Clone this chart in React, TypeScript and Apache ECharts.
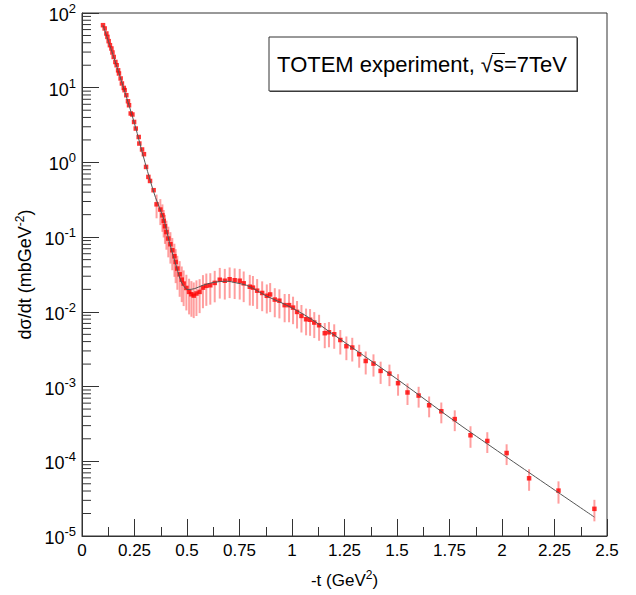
import React, { useEffect, useRef } from "react";
import * as echarts from "echarts";

// low-|t| data set (small errors)
const lowT = [0.100, 0.108, 0.116, 0.121, 0.127, 0.133, 0.140, 0.145, 0.151, 0.159, 0.165, 0.172, 0.176, 0.184, 0.190, 0.199, 0.203, 0.211, 0.219, 0.224, 0.232, 0.240, 0.248, 0.256, 0.270, 0.273, 0.286, 0.295, 0.305, 0.316, 0.324, 0.341];
const lowV = [68.7, 62.1, 53.2, 47.9, 42.0, 37.1, 33.5, 29.6, 25.8, 22.1, 20.0, 17.1, 15.5, 13.3, 11.4, 9.93, 9.27, 7.94, 6.59, 5.83, 4.52, 4.38, 3.48, 2.84, 2.19, 1.79, 1.49, 1.29, 0.871, 0.640, 0.565, 0.425];

// high-|t| data set (large errors)
const highT = [0.355, 0.373, 0.383, 0.389, 0.395, 0.402, 0.411, 0.421, 0.430, 0.440, 0.446, 0.454, 0.465, 0.475, 0.484, 0.497, 0.510, 0.521, 0.532, 0.545, 0.560, 0.576, 0.592, 0.611, 0.632, 0.656, 0.680, 0.703, 0.727, 0.751, 0.770, 0.799, 0.814, 0.834, 0.858, 0.880, 0.896, 0.918, 0.940, 0.965, 0.986, 1.005, 1.024, 1.045, 1.067, 1.086, 1.106, 1.129, 1.156, 1.176, 1.201, 1.230, 1.259, 1.287, 1.320, 1.351, 1.388, 1.422, 1.464, 1.505, 1.550, 1.603, 1.653, 1.711, 1.775, 1.850, 1.930, 2.022, 2.129, 2.269, 2.440];
const highV = [0.275, 0.234, 0.196, 0.165, 0.140, 0.117, 0.0958, 0.0804, 0.0668, 0.0555, 0.0466, 0.0380, 0.0318, 0.0270, 0.0239, 0.0209, 0.0185, 0.0172, 0.0165, 0.0176, 0.0185, 0.0211, 0.0223, 0.0227, 0.0244, 0.0269, 0.0261, 0.0273, 0.0265, 0.0261, 0.0241, 0.0217, 0.0211, 0.0192, 0.0179, 0.0164, 0.0171, 0.0146, 0.0141, 0.0123, 0.0123, 0.0114, 0.00998, 0.00882, 0.00796, 0.00784, 0.00719, 0.00662, 0.00518, 0.00533, 0.00501, 0.00420, 0.00347, 0.00333, 0.00271, 0.00220, 0.00203, 0.00162, 0.00149, 0.00111, 0.000834, 0.000758, 0.000562, 0.000467, 0.000367, 0.000223, 0.000187, 0.000129, 5.92e-5, 4.05e-5, 2.31e-5];
// relative errors (fraction of value)
const highErr = [0.35, 0.38, 0.40, 0.40, 0.42, 0.42, 0.44, 0.45, 0.46, 0.47, 0.48, 0.48, 0.50, 0.50, 0.50, 0.50, 0.50, 0.50, 0.50, 0.50, 0.48, 0.47, 0.46, 0.45, 0.45, 0.44, 0.44, 0.44, 0.44, 0.44, 0.44, 0.44, 0.43, 0.43, 0.43, 0.42, 0.42, 0.42, 0.42, 0.41, 0.41, 0.40, 0.40, 0.40, 0.39, 0.39, 0.38, 0.38, 0.37, 0.37, 0.36, 0.36, 0.35, 0.35, 0.34, 0.34, 0.33, 0.33, 0.32, 0.32, 0.32, 0.31, 0.31, 0.31, 0.31, 0.32, 0.31, 0.31, 0.32, 0.33, 0.32];

// fit curve
const fitT = [0.100, 0.150, 0.200, 0.250, 0.300, 0.350, 0.386, 0.418, 0.450, 0.473, 0.494, 0.505, 0.537, 0.576, 0.624, 0.688, 0.735, 0.783, 0.830, 0.878, 0.941, 1.021, 1.100, 1.180, 1.500, 1.814, 2.440];
const fitV = [68.7, 26.3, 9.55, 3.31, 1.0, 0.339, 0.186, 0.0820, 0.0399, 0.0251, 0.0205, 0.0199, 0.0205, 0.0227, 0.0247, 0.0257, 0.0244, 0.0227, 0.0195, 0.0163, 0.0136, 0.0105, 0.00773, 0.00538, 0.00126, 0.000288, 1.79e-5];

const xTickInterval = 0.25;
const yDecades = [-5, -4, -3, -2, -1, 0, 1];
const legendText = "TOTEM experiment, \u221As=7TeV";

const FONT = '"Liberation Sans", Arial, Helvetica, sans-serif';
const LEGEND_FONT = '22px "Liberation Sans"';

export default function App() {
  const ref = useRef<HTMLDivElement>(null);
  useEffect(() => {
    if (!ref.current) return;
    const chart = echarts.init(ref.current, undefined, { renderer: "svg" });

    const yMinor: number[][] = [];
    yDecades.forEach((e) => {
      for (let m = 2; m <= 9; m++) yMinor.push([0, m * Math.pow(10, e)]);
    });

    // measure legend text for the radical overline
    const cv = document.createElement("canvas").getContext("2d")!;
    cv.font = LEGEND_FONT;
    const fullW = cv.measureText(legendText).width;
    const preW = cv.measureText("TOTEM experiment, \u221A").width;
    const sW = cv.measureText("s").width;
    const cx = 422;
    const cy = 64;
    const left = cx - fullW / 2;

    chart.setOption({
      animation: false,
      backgroundColor: "#fff",
      grid: {
        left: 82,
        right: 29,
        top: 13,
        bottom: 59,
        show: true,
        borderColor: "#333",
        borderWidth: 1,
        backgroundColor: "transparent",
      },
      xAxis: {
        type: "value",
        min: 0,
        max: 2.5,
        interval: xTickInterval,
        name: "{a|-t (GeV}{s|2}{a|)}",
        nameLocation: "middle",
        nameGap: 33,
        nameTextStyle: {
          rich: {
            a: { fontSize: 17, fontFamily: FONT, color: "#000", lineHeight: 20, verticalAlign: "bottom" },
            s: { fontSize: 12, fontFamily: FONT, color: "#000", lineHeight: 20, verticalAlign: "top" },
          },
        },
        axisLine: { show: true, lineStyle: { color: "#333" } },
        axisTick: { show: true, inside: true, length: 17, lineStyle: { color: "#333" } },
        minorTick: { show: true, splitNumber: 2, length: 9, lineStyle: { color: "#333" } },
        splitLine: { show: false },
        axisLabel: { fontSize: 17, fontFamily: FONT, color: "#000", margin: 6 },
      },
      yAxis: {
        type: "log",
        logBase: 10,
        min: 1e-5,
        max: 100,
        interval: 1,
        name: "{a|d\u03C3/dt (mbGeV}{s|-2}{a|)}",
        nameLocation: "middle",
        nameRotate: 90,
        nameGap: 43,
        nameTextStyle: {
          rich: {
            a: { fontSize: 18, fontFamily: FONT, color: "#000", lineHeight: 20, verticalAlign: "bottom" },
            s: { fontSize: 12, fontFamily: FONT, color: "#000", lineHeight: 20, verticalAlign: "top" },
          },
        },
        axisLine: { show: true, lineStyle: { color: "#333" } },
        axisTick: { show: true, inside: true, length: 17, lineStyle: { color: "#333" } },
        splitLine: { show: false },
        axisLabel: {
          margin: 6,
          formatter: (v: number) => "{b|10}{s|" + Math.round(Math.log10(v)) + "}",
          rich: {
            b: { fontSize: 18, fontFamily: FONT, color: "#000", lineHeight: 22, verticalAlign: "bottom" },
            s: { fontSize: 13, fontFamily: FONT, color: "#000", lineHeight: 22, verticalAlign: "top" },
          },
        },
      },
      graphic: [
        {
          type: "group",
          children: [
            { type: "rect", shape: { x: 270, y: 38, width: 308, height: 54 }, style: { fill: "#444" } },
            { type: "rect", shape: { x: 269, y: 37, width: 308, height: 54 }, style: { fill: "#fff", stroke: "#333", lineWidth: 1 } },
            {
              type: "text",
              x: cx,
              y: cy,
              style: { text: legendText, font: LEGEND_FONT, fill: "#000", align: "center", verticalAlign: "middle" },
            },
            {
              type: "line",
              shape: { x1: left + preW - 1, y1: cy - 10.5, x2: left + preW + sW + 1, y2: cy - 10.5 },
              style: { stroke: "#000", lineWidth: 1 },
            },
          ],
        },
      ],
      series: [
        {
          type: "custom",
          name: "yMinorTicks",
          silent: true,
          clip: false,
          data: yMinor,
          encode: { x: 0, y: 1 },
          renderItem: (_p: any, api: any) => {
            const p = api.coord([0, api.value(1)]);
            return {
              type: "line",
              shape: { x1: p[0], y1: p[1], x2: p[0] + 9, y2: p[1] },
              style: { stroke: "#333", lineWidth: 1 },
            };
          },
          z: 1,
        },
        {
          type: "custom",
          name: "errors",
          silent: true,
          data: highT.map((t, i) => [t, highV[i] * (1 - highErr[i]), highV[i] * (1 + highErr[i])]),
          encode: { x: 0, y: [1, 2] },
          renderItem: (_p: any, api: any) => {
            const a = api.coord([api.value(0), api.value(1)]);
            const b = api.coord([api.value(0), api.value(2)]);
            return {
              type: "line",
              shape: { x1: a[0], y1: a[1], x2: b[0], y2: b[1] },
              style: { stroke: "rgba(255,40,40,0.45)", lineWidth: 2 },
            };
          },
          z: 2,
        },
        {
          type: "scatter",
          name: "low",
          data: lowT.map((t, i) => [t, lowV[i]]),
          symbol: "rect",
          symbolSize: 4.5,
          itemStyle: { color: "#ff0000" },
          z: 3,
        },
        {
          type: "scatter",
          name: "high",
          data: highT.map((t, i) => [t, highV[i]]),
          symbol: "rect",
          symbolSize: 4.5,
          itemStyle: { color: "#ff0000" },
          z: 3,
        },
        {
          type: "line",
          name: "fit",
          data: fitT.map((t, i) => [t, fitV[i]]),
          showSymbol: false,
          smooth: 0.35,
          lineStyle: { color: "#555", width: 1 },
          z: 4,
        },
      ],
    });
    return () => chart.dispose();
  }, []);
  return <div ref={ref} style={{ position: "fixed", left: 0, top: 0, width: 636, height: 595 }} />;
}
